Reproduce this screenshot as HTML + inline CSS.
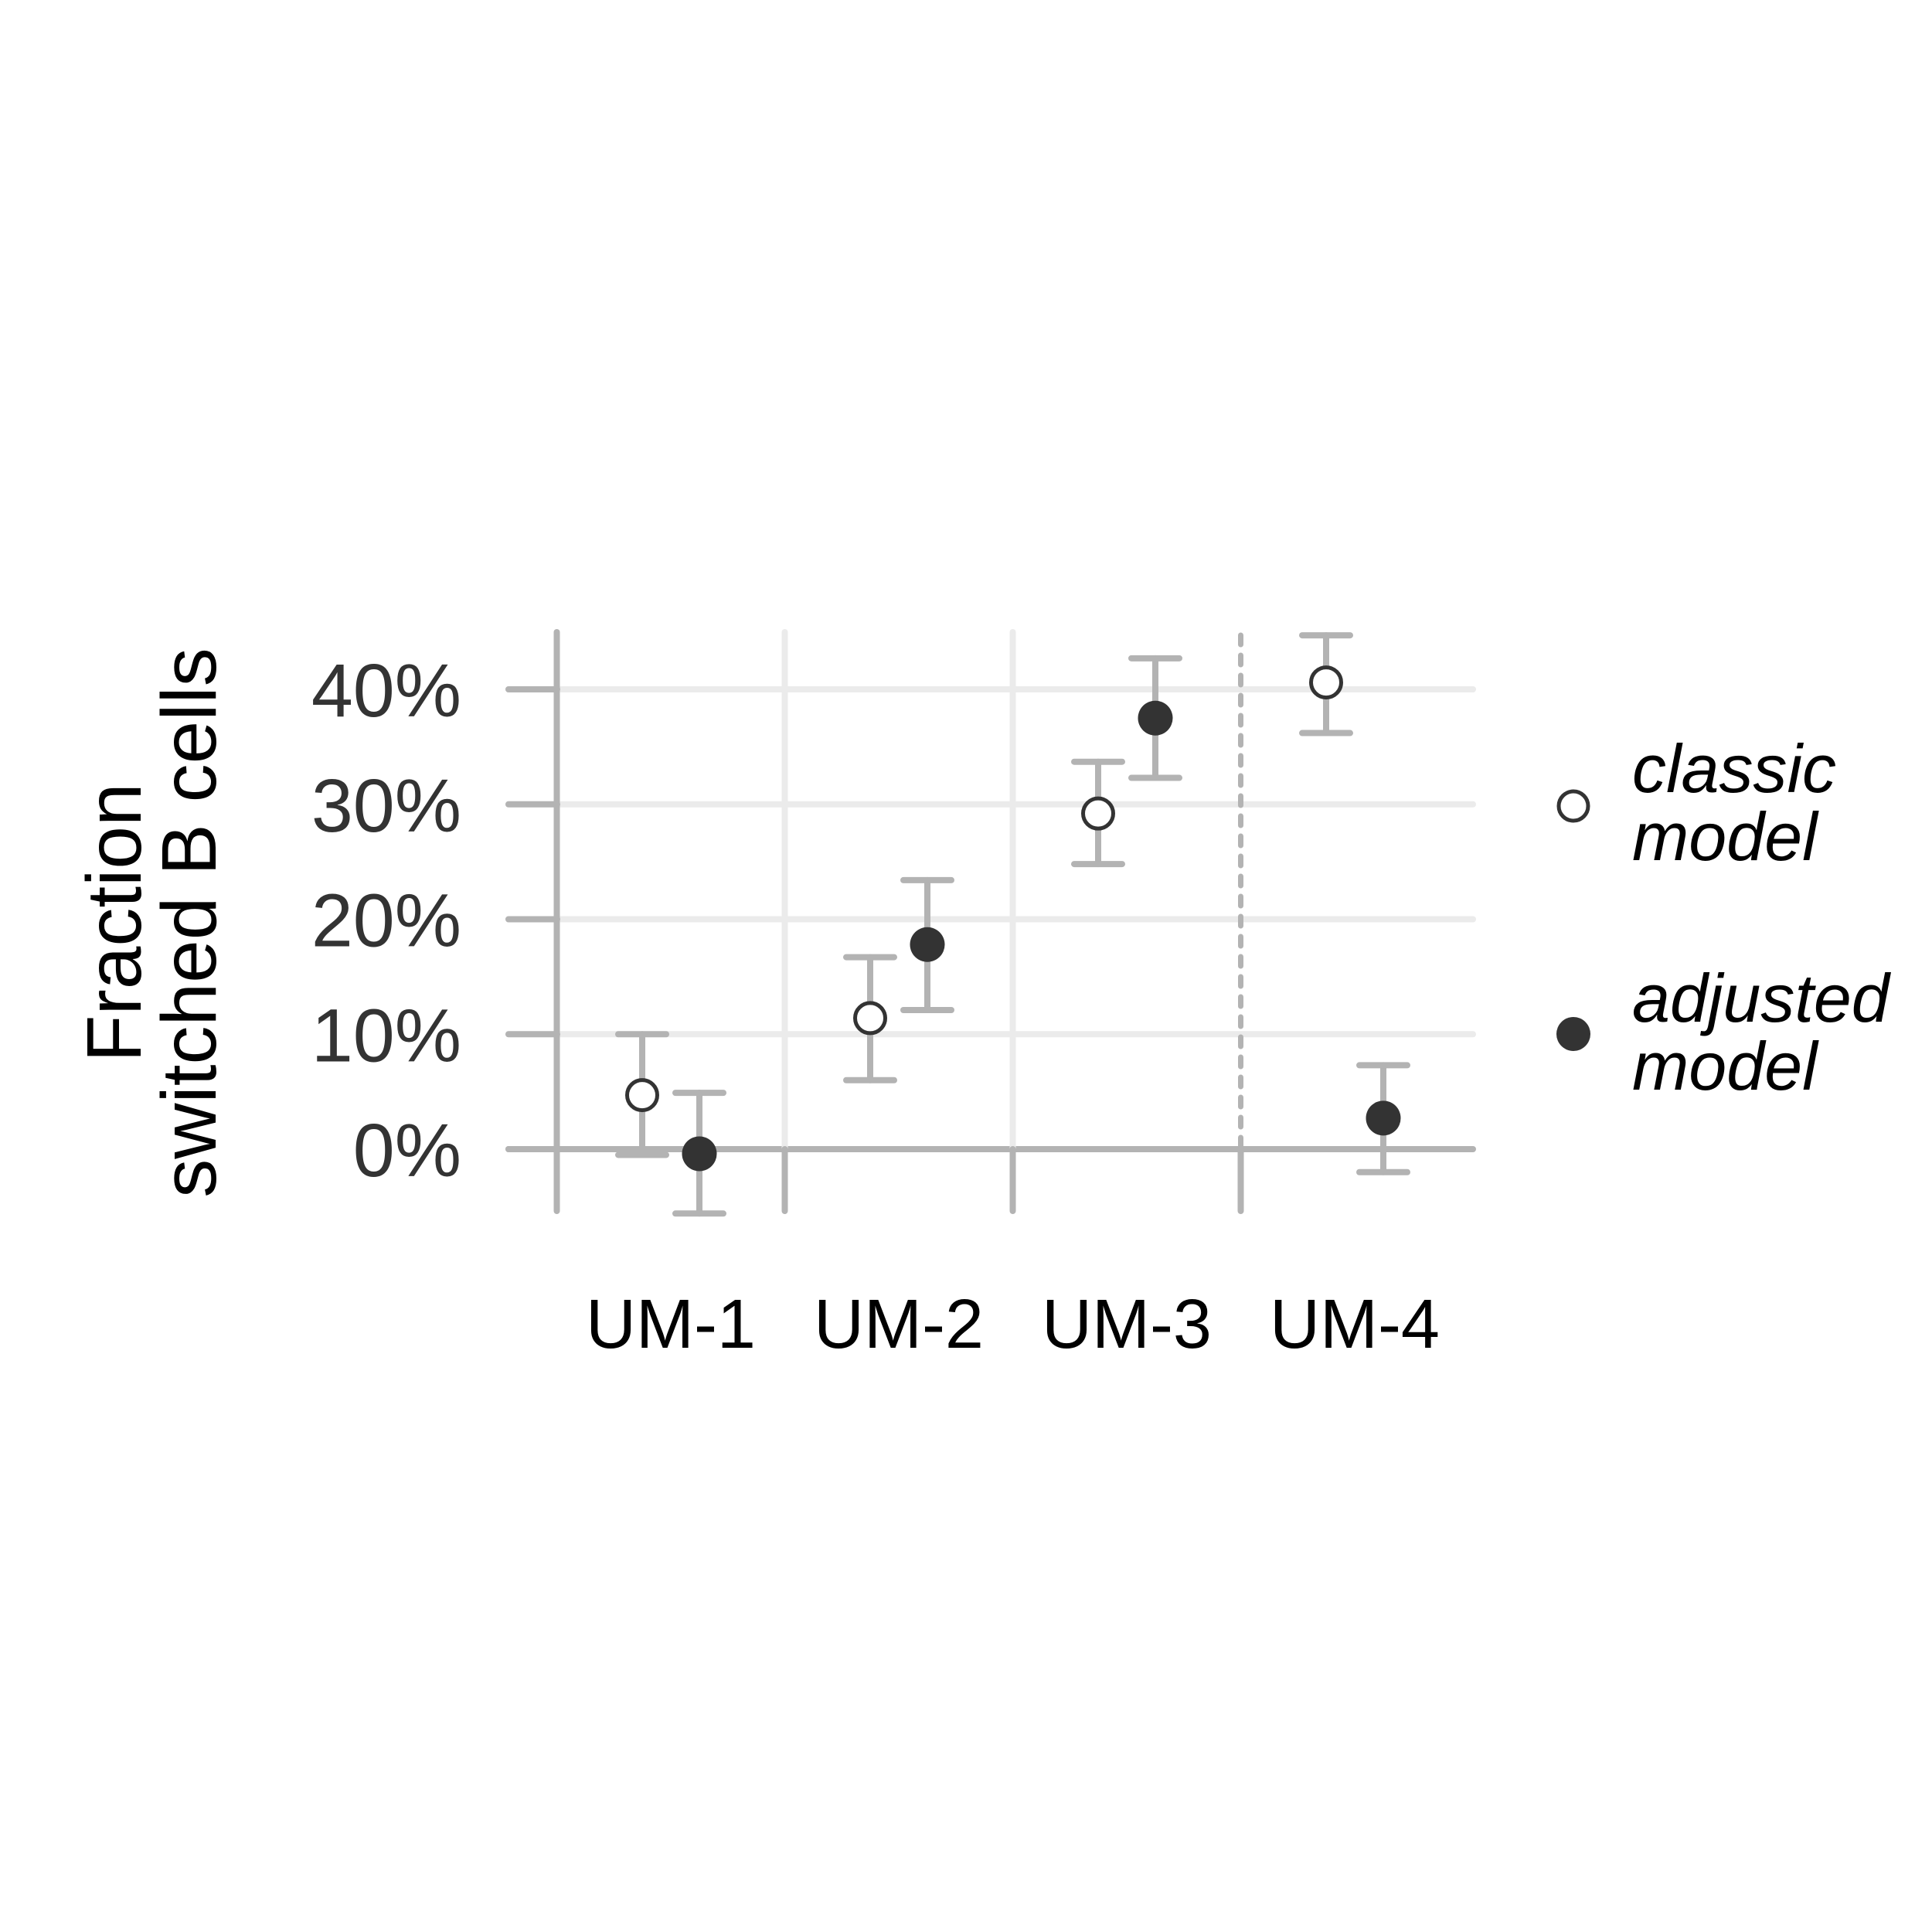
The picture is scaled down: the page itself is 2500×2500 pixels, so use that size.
<!DOCTYPE html>
<html><head><meta charset="utf-8"><style>
html,body{margin:0;padding:0;background:#fff;}
svg{display:block;}
text{font-family:"Liberation Sans",Arial,sans-serif;}
</style></head><body>
<svg id="chart" width="2500" height="2500" viewBox="0 0 2500 2500" xmlns="http://www.w3.org/2000/svg">
<rect width="2500" height="2500" fill="#fff"/>
<g id="grid"></g>
<g id="yticks"></g>
<g id="xticks"></g>
<g id="marks"></g>
<text transform="translate(182,1194) rotate(-90)" text-anchor="middle" font-size="100" fill="#000">Fraction</text>
<text transform="translate(279,1194) rotate(-90)" text-anchor="middle" font-size="100" fill="#000">switched B cells</text>
<g>
  <circle cx="2036" cy="1043" r="19" fill="#fff" stroke="#333" stroke-width="5"/>
  <text x="2112" y="1025" font-size="88" font-style="italic" fill="#000">classic</text>
  <text x="2112" y="1113" font-size="88" font-style="italic" fill="#000">model</text>
  <circle cx="2036" cy="1338" r="22" fill="#333"/>
  <text x="2112" y="1322" font-size="88" font-style="italic" fill="#000">adjusted</text>
  <text x="2112" y="1410" font-size="88" font-style="italic" fill="#000">model</text>
</g>
</svg>
<script>
const categories = ["UM-1","UM-2","UM-3","UM-4"];
const yTicks = [0,10,20,30,40];
const yTickLabels = ["0%","10%","20%","30%","40%"];
const classicVal = [4.7,11.4,29.2,40.6];
const classicLo = [-0.5,6.0,24.8,36.2];
const classicHi = [10.0,16.7,33.7,44.7];
const adjustedVal = [-0.4,17.8,37.5,2.7];
const adjustedLo = [-5.6,12.1,32.3,-2.0];
const adjustedHi = [4.9,23.4,42.7,7.3];

const NS="http://www.w3.org/2000/svg";
function y(v){return 1487-14.875*v;}
function x(i){return 868+295.0*i;}
const GREY="#b3b3b3", LIGHT="#ebebeb";
function mk(parent,tag,attrs){const e=document.createElementNS(NS,tag);for(const k in attrs)e.setAttribute(k,attrs[k]);parent.appendChild(e);return e;}
const grid=document.getElementById('grid'), yt=document.getElementById('yticks'), xt=document.getElementById('xticks'), marks=document.getElementById('marks');
const L=658, R=1906, TOP=818, BOT=1567;
const SW=8;
yTicks.forEach((t,k)=>{
  const ln=mk(grid,'line',{x1:L,x2:R,y1:y(t),y2:y(t),stroke:t===0?GREY:LIGHT,'stroke-width':SW,'stroke-linecap':'round'});
  
  
  const tk=mk(yt,'line',{x1:L,x2:721,y1:y(t),y2:y(t),stroke:GREY,'stroke-width':SW,'stroke-linecap':'round'});
  
  
  const tx=mk(yt,'text',{x:597,y:y(t)+35,'text-anchor':'end','font-size':97,fill:'#333'});
  tx.textContent=yTickLabels[k];
  
  
});
for(let b=0;b<=categories.length-1;b++){
  const bx=x(b-0.5);
  if(b===0){
    const a=mk(grid,'line',{x1:bx,x2:bx,y1:TOP,y2:BOT,stroke:GREY,'stroke-width':SW,'stroke-linecap':'round'});
    
    
  } else if(b===3){
    const d=mk(grid,'line',{x1:bx,x2:bx,y1:TOP+4,y2:y(0),stroke:GREY,'stroke-width':7,'stroke-dasharray':'12 14','stroke-linecap':'round'});
    
    
    const s=mk(grid,'line',{x1:bx,x2:bx,y1:y(0),y2:BOT,stroke:GREY,'stroke-width':SW,'stroke-linecap':'round'});
    
    
  } else {
    const g=mk(grid,'line',{x1:bx,x2:bx,y1:TOP,y2:y(0),stroke:LIGHT,'stroke-width':SW,'stroke-linecap':'round'});
    
    
    const s=mk(grid,'line',{x1:bx,x2:bx,y1:y(0),y2:BOT,stroke:GREY,'stroke-width':SW,'stroke-linecap':'round'});
    
    
  }
}
categories.forEach((c,i)=>{
  const t=mk(xt,'text',{x:x(i),y:1744,'text-anchor':'middle','font-size':90,fill:'#000'});
  t.textContent=c;
  
  
});
function errbar(cx,lo,hi,name){
  const g=mk(marks,'g',{stroke:GREY,'stroke-width':SW,'stroke-linecap':'round',fill:'none'});
  
  
  mk(g,'line',{x1:cx,x2:cx,y1:y(hi),y2:y(lo)});
  mk(g,'line',{x1:cx-31,x2:cx+31,y1:y(hi),y2:y(hi)});
  mk(g,'line',{x1:cx-31,x2:cx+31,y1:y(lo),y2:y(lo)});
}
categories.forEach((c,i)=>{
  const cx1=x(i)-37, cx2=x(i)+37;
  errbar(cx1,classicLo[i],classicHi[i],'errorbar-classic');
  errbar(cx2,adjustedLo[i],adjustedHi[i],'errorbar-adjusted');
  const p1=mk(marks,'circle',{cx:cx1,cy:y(classicVal[i]),r:19.5,fill:'#fff',stroke:'#333','stroke-width':5});
  
  
  const p2=mk(marks,'circle',{cx:cx2,cy:y(adjustedVal[i]),r:22.5,fill:'#333'});
  
  
});
</script>
</body></html>
